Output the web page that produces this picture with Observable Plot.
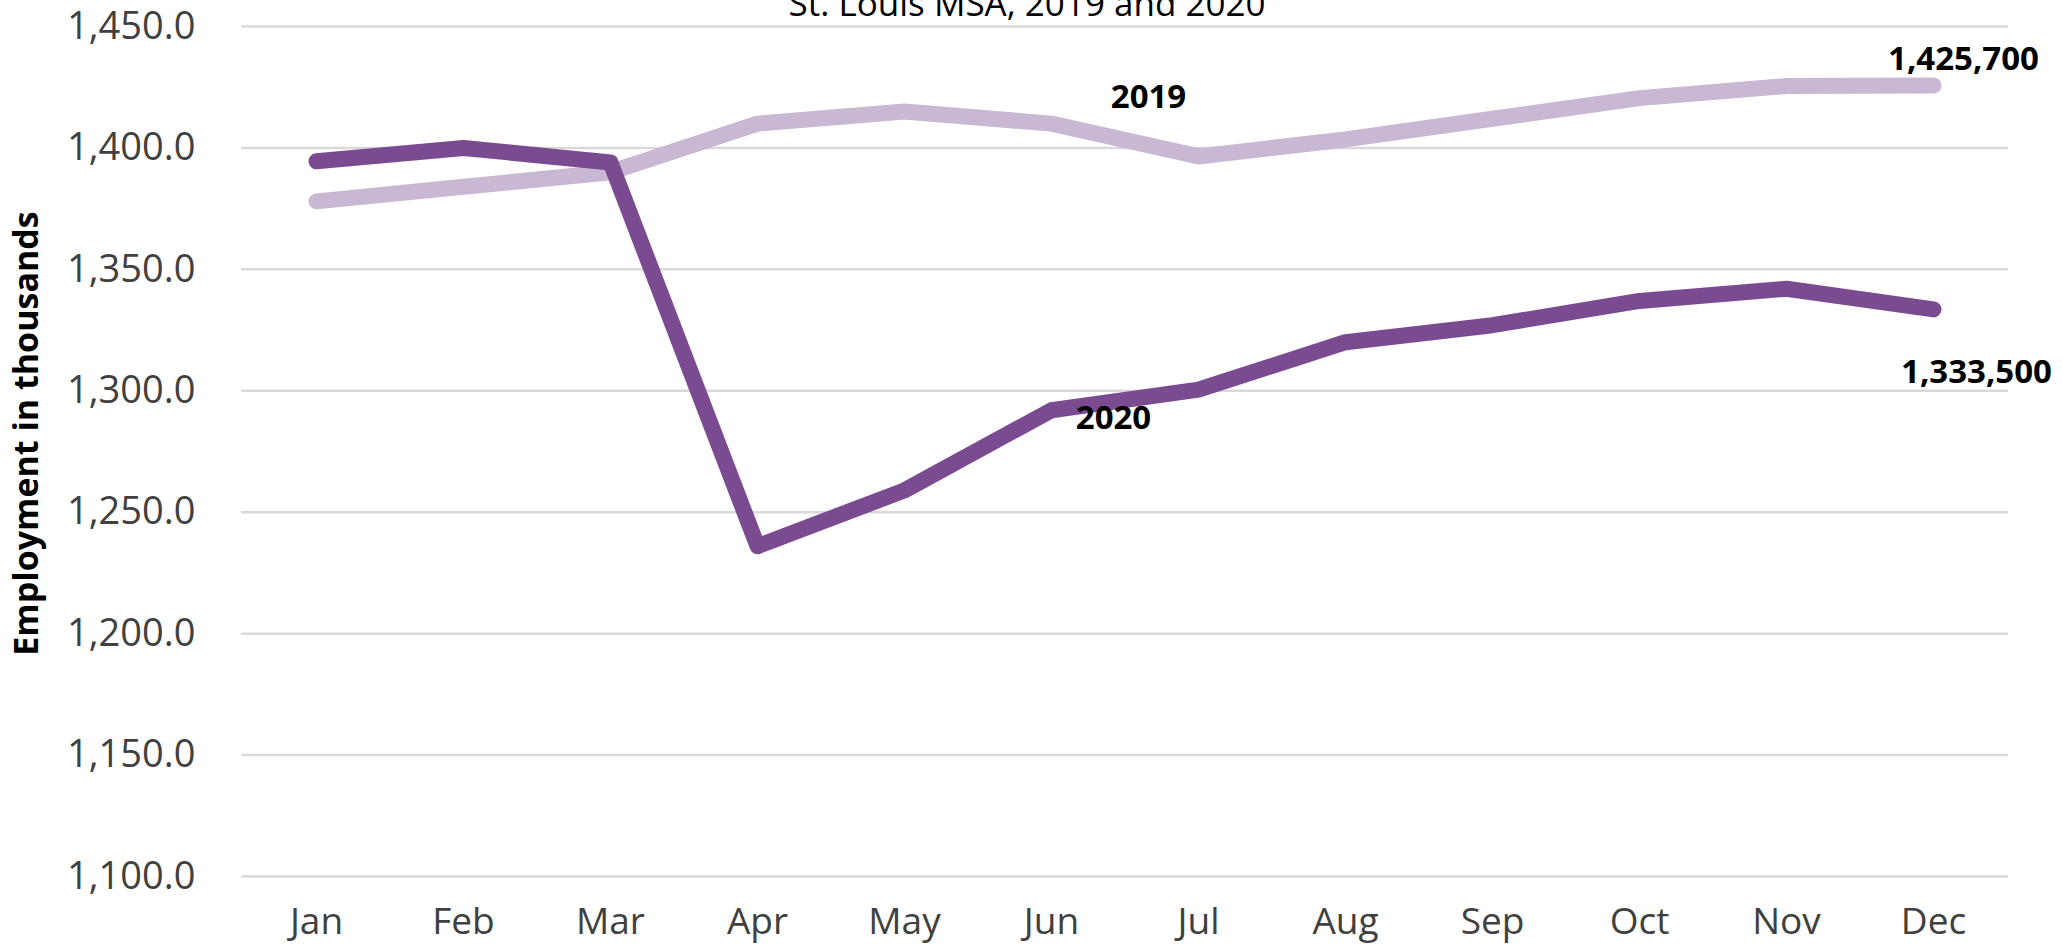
<!DOCTYPE html>
<html>
<head>
<meta charset="utf-8">
<script src="https://cdn.jsdelivr.net/npm/d3@7"></script>
<script src="https://cdn.jsdelivr.net/npm/@observablehq/plot@0.6"></script>
<style>
  html, body { margin: 0; padding: 0; background: #fff; }
  svg { display: block; }
</style>
</head>
<body>
<div id="chart"></div>
<script>
const months = ["Jan","Feb","Mar","Apr","May","Jun","Jul","Aug","Sep","Oct","Nov","Dec"];
const values2019 = [1378, 1384, 1390, 1410, 1415, 1410, 1396.5, 1403.5, 1412, 1420.5, 1425.5, 1425.7];
const values2020 = [1394.5, 1400, 1394, 1236, 1259, 1292, 1300.5, 1320, 1327, 1337, 1342, 1333.5];
const yTicks = [1100, 1150, 1200, 1250, 1300, 1350, 1400, 1450];
const seriesNames = ["2019", "2020"];
const seriesColors = ["#c9b8d4", "#7b4b91"];
const endLabels = ["1,425,700", "1,333,500"];
const titleText = "St. Louis MSA, 2019 and 2020";
const yLabelText = "Employment in thousands";

const rows = [];
[values2019, values2020].forEach((vals, i) => {
  vals.forEach((v, j) => rows.push({series: seriesNames[i], month: months[j], value: v}));
});
const last2019 = {month: months[11], value: values2019[11], label: endLabels[0]};
const last2020 = {month: months[11], value: values2020[11], label: endLabels[1]};

const font = "'Open Sans', sans-serif";

const chart = Plot.plot({
  width: 2062,
  height: 945,
  marginLeft: 241,
  marginRight: 54,
  marginTop: 26,
  marginBottom: 69,
  style: {fontFamily: font, fontSize: "37px", color: "#404040", background: "#fff"},
  x: {type: "point", domain: months, padding: 0.5},
  y: {domain: [1100, 1450]},
  color: {domain: seriesNames, range: seriesColors},
  marks: [
    Plot.gridY(yTicks, {stroke: "#d9d9d9", strokeOpacity: 1, strokeWidth: 2.5}),
    Plot.axisY({ticks: yTicks, tickFormat: d3.format(",.1f"), tickSize: 0, tickPadding: 46, label: null, fill: "#404040", fontSize: 38}),
    Plot.axisX({tickSize: 0, tickPadding: 31, label: null, fill: "#404040", fontSize: 37}),
    Plot.line(rows.filter(d => d.series === "2019"), {x: "month", y: "value", stroke: "series", strokeWidth: 16, strokeLinecap: "round", strokeLinejoin: "round"}),
    Plot.line(rows.filter(d => d.series === "2020"), {x: "month", y: "value", stroke: "series", strokeWidth: 16, strokeLinecap: "round", strokeLinejoin: "round"}),
    Plot.text([seriesNames[0]], {x: () => "Jul", y: () => 1420.8, text: d => d, dx: -50, fontWeight: "bold", fontSize: 33, fill: "#000"}),
    Plot.text([seriesNames[1]], {x: () => "Jun", y: () => 1288.6, text: d => d, dx: 62, fontWeight: "bold", fontSize: 33, fill: "#000"}),
    Plot.text([last2019], {x: "month", y: "value", text: "label", dx: 30, dy: -26, fontWeight: "bold", fontSize: 33, fill: "#000"}),
    Plot.text([last2020], {x: "month", y: "value", text: "label", dx: 43, dy: 63, fontWeight: "bold", fontSize: 33, fill: "#000"}),
    Plot.text([titleText], {frameAnchor: "top", text: d => d, dx: -98, dy: -11, lineAnchor: "bottom", fontSize: 35, fill: "#000"}),
    Plot.text([yLabelText], {frameAnchor: "left", text: d => d, dx: -214, dy: -18, rotate: -90, textAnchor: "middle", fontWeight: "bold", fontSize: 34, fill: "#000"})
  ]
});
document.getElementById("chart").appendChild(chart);
</script>
</body>
</html>
